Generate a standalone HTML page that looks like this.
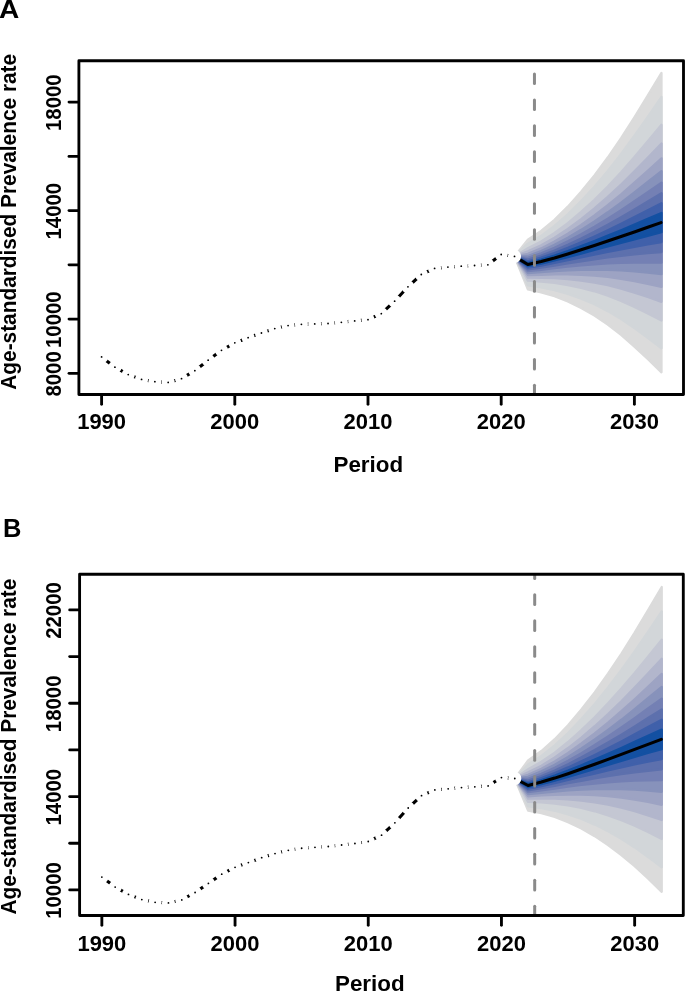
<!DOCTYPE html>
<html><head><meta charset="utf-8"><title>Figure</title>
<style>html,body{margin:0;padding:0;background:#fff;}body{width:685px;height:992px;overflow:hidden;font-family:"Liberation Sans",sans-serif;}svg{display:block;will-change:transform;}</style></head>
<body>
<svg width="685" height="992" viewBox="0 0 685 992" font-family="Liberation Sans, sans-serif" font-weight="bold">
<rect width="685" height="992" fill="#fff"/>
<g id="chartA">
<clipPath id="clipA"><rect x="78.9" y="60.75" width="604.6" height="333.75"/></clipPath>
<g clip-path="url(#clipA)">
<polygon points="514.52,256.40 527.84,239.70 541.16,230.90 554.48,219.80 567.80,206.65 581.12,191.75 594.44,175.50 607.76,157.55 621.08,138.13 634.40,117.35 647.72,95.62 661.49,72.95 661.49,372.35 647.72,359.02 634.40,346.55 621.08,334.93 607.76,324.55 594.44,315.50 581.12,307.95 567.80,301.45 554.48,296.20 541.16,292.30 527.84,289.30" fill="#DBDBDB" stroke="#DBDBDB" stroke-width="2.3" stroke-linejoin="round"/>
<polygon points="514.52,256.40 527.84,243.69 541.16,235.83 554.48,225.94 567.80,214.27 581.12,201.09 594.44,186.75 607.76,170.97 621.08,153.94 634.40,135.77 647.72,116.79 661.49,97.01 661.49,348.29 647.72,337.85 634.40,328.13 621.08,319.12 607.76,311.13 594.44,304.25 581.12,298.61 567.80,293.83 554.48,290.06 541.16,287.37 527.84,285.31" fill="#D2D6D9" stroke="#D2D6D9" stroke-width="2.3" stroke-linejoin="round"/>
<polygon points="514.52,256.40 527.84,248.28 541.16,241.53 554.48,233.02 567.80,223.06 581.12,211.86 594.44,199.73 607.76,186.45 621.08,172.19 634.40,157.02 647.72,141.20 661.49,124.76 661.49,320.54 647.72,313.44 634.40,306.88 621.08,300.87 607.76,295.65 594.44,291.27 581.12,287.84 567.80,285.04 554.48,282.98 541.16,281.67 527.84,280.72" fill="#C4C7D3" stroke="#C4C7D3" stroke-width="2.3" stroke-linejoin="round"/>
<polygon points="514.52,256.40 527.84,251.39 541.16,245.37 554.48,237.80 567.80,228.99 581.12,219.13 594.44,208.49 607.76,196.90 621.08,184.50 634.40,171.35 647.72,157.68 661.49,143.49 661.49,301.81 647.72,296.96 634.40,292.55 621.08,288.56 607.76,285.20 594.44,282.51 581.12,280.57 567.80,279.11 554.48,278.20 541.16,277.83 527.84,277.61" fill="#B2B6CC" stroke="#B2B6CC" stroke-width="2.3" stroke-linejoin="round"/>
<polygon points="514.52,256.40 527.84,253.85 541.16,248.42 554.48,241.60 567.80,233.70 581.12,224.90 594.44,215.44 607.76,205.20 621.08,194.28 634.40,182.74 647.72,170.77 661.49,158.37 661.49,286.93 647.72,283.87 634.40,281.16 621.08,278.78 607.76,276.90 594.44,275.56 581.12,274.80 567.80,274.40 554.48,274.40 541.16,274.78 527.84,275.15" fill="#9DA3C3" stroke="#9DA3C3" stroke-width="2.3" stroke-linejoin="round"/>
<polygon points="514.52,256.40 527.84,255.97 541.16,251.04 554.48,244.85 567.80,237.74 581.12,229.86 594.44,221.41 607.76,212.31 621.08,202.67 634.40,192.51 647.72,182.00 661.49,171.13 661.49,274.17 647.72,272.64 634.40,271.39 621.08,270.39 607.76,269.79 594.44,269.59 581.12,269.84 567.80,270.36 554.48,271.15 541.16,272.16 527.84,273.03" fill="#8792BB" stroke="#8792BB" stroke-width="2.3" stroke-linejoin="round"/>
<polygon points="514.52,256.40 527.84,257.86 541.16,253.39 554.48,247.78 567.80,241.37 581.12,234.31 594.44,226.77 607.76,218.71 621.08,210.20 634.40,201.29 647.72,192.08 661.49,182.60 661.49,262.70 647.72,262.56 634.40,262.61 621.08,262.86 607.76,263.39 594.44,264.23 581.12,265.39 567.80,266.73 554.48,268.22 541.16,269.81 527.84,271.14" fill="#7480B4" stroke="#7480B4" stroke-width="2.3" stroke-linejoin="round"/>
<polygon points="514.52,256.40 527.84,259.62 541.16,255.56 554.48,250.49 567.80,244.73 581.12,238.43 594.44,231.74 607.76,224.64 621.08,217.19 634.40,209.42 647.72,201.43 661.49,193.22 661.49,252.08 647.72,253.21 634.40,254.48 621.08,255.87 607.76,257.46 594.44,259.26 581.12,261.27 567.80,263.37 554.48,265.51 541.16,267.64 527.84,269.38" fill="#5D70AD" stroke="#5D70AD" stroke-width="2.3" stroke-linejoin="round"/>
<polygon points="514.52,256.40 527.84,261.29 541.16,257.63 554.48,253.06 567.80,247.92 581.12,242.34 594.44,236.45 607.76,230.26 621.08,223.81 634.40,217.14 647.72,210.30 661.49,203.30 661.49,242.00 647.72,244.34 634.40,246.76 621.08,249.25 607.76,251.84 594.44,254.55 581.12,257.36 567.80,260.18 554.48,262.94 541.16,265.57 527.84,267.71" fill="#4060AA" stroke="#4060AA" stroke-width="2.3" stroke-linejoin="round"/>
<polygon points="514.52,256.40 527.84,262.91 541.16,259.63 554.48,255.55 567.80,251.01 581.12,246.12 594.44,241.01 607.76,235.69 621.08,230.22 634.40,224.60 647.72,218.87 661.49,213.05 661.49,232.25 647.72,235.77 634.40,239.30 621.08,242.84 607.76,246.41 594.44,249.99 581.12,253.58 567.80,257.09 554.48,260.45 541.16,263.57 527.84,266.09" fill="#1350A2" stroke="#1350A2" stroke-width="2.3" stroke-linejoin="round"/>
<polyline points="101.60,356.90 114.92,367.20 128.24,374.60 141.56,379.40 154.88,381.70 168.20,382.40 181.52,378.70 194.84,370.70 208.16,360.20 221.48,350.30 234.80,342.85 248.12,337.70 261.44,333.00 274.76,328.60 288.08,325.60 301.40,324.30 314.72,323.90 328.04,323.50 341.36,322.30 354.68,320.90 368.00,319.70 381.32,313.70 394.64,301.20 407.96,286.80 421.28,274.50 434.60,268.45 447.92,267.10 461.24,266.20 474.56,265.50 487.88,264.80 501.20,254.50 514.52,256.40 527.84,264.50 541.16,261.60 554.48,258.00 567.80,254.05 581.12,249.85 594.44,245.50 607.76,241.05 621.08,236.53 634.40,231.95 647.72,227.32 661.04,222.65" fill="none" stroke="#000" stroke-width="3.1" stroke-linejoin="round" stroke-linecap="round"/>
<circle cx="101.60" cy="356.90" r="3.73" fill="#000" stroke="#fff" stroke-width="5.65"/>
<circle cx="114.92" cy="367.20" r="3.73" fill="#000" stroke="#fff" stroke-width="5.65"/>
<circle cx="128.24" cy="374.60" r="3.73" fill="#000" stroke="#fff" stroke-width="5.65"/>
<circle cx="141.56" cy="379.40" r="3.73" fill="#000" stroke="#fff" stroke-width="5.65"/>
<circle cx="154.88" cy="381.70" r="3.73" fill="#000" stroke="#fff" stroke-width="5.65"/>
<circle cx="168.20" cy="382.40" r="3.73" fill="#000" stroke="#fff" stroke-width="5.65"/>
<circle cx="181.52" cy="378.70" r="3.73" fill="#000" stroke="#fff" stroke-width="5.65"/>
<circle cx="194.84" cy="370.70" r="3.73" fill="#000" stroke="#fff" stroke-width="5.65"/>
<circle cx="208.16" cy="360.20" r="3.73" fill="#000" stroke="#fff" stroke-width="5.65"/>
<circle cx="221.48" cy="350.30" r="3.73" fill="#000" stroke="#fff" stroke-width="5.65"/>
<circle cx="234.80" cy="342.85" r="3.73" fill="#000" stroke="#fff" stroke-width="5.65"/>
<circle cx="248.12" cy="337.70" r="3.73" fill="#000" stroke="#fff" stroke-width="5.65"/>
<circle cx="261.44" cy="333.00" r="3.73" fill="#000" stroke="#fff" stroke-width="5.65"/>
<circle cx="274.76" cy="328.60" r="3.73" fill="#000" stroke="#fff" stroke-width="5.65"/>
<circle cx="288.08" cy="325.60" r="3.73" fill="#000" stroke="#fff" stroke-width="5.65"/>
<circle cx="301.40" cy="324.30" r="3.73" fill="#000" stroke="#fff" stroke-width="5.65"/>
<circle cx="314.72" cy="323.90" r="3.73" fill="#000" stroke="#fff" stroke-width="5.65"/>
<circle cx="328.04" cy="323.50" r="3.73" fill="#000" stroke="#fff" stroke-width="5.65"/>
<circle cx="341.36" cy="322.30" r="3.73" fill="#000" stroke="#fff" stroke-width="5.65"/>
<circle cx="354.68" cy="320.90" r="3.73" fill="#000" stroke="#fff" stroke-width="5.65"/>
<circle cx="368.00" cy="319.70" r="3.73" fill="#000" stroke="#fff" stroke-width="5.65"/>
<circle cx="381.32" cy="313.70" r="3.73" fill="#000" stroke="#fff" stroke-width="5.65"/>
<circle cx="394.64" cy="301.20" r="3.73" fill="#000" stroke="#fff" stroke-width="5.65"/>
<circle cx="407.96" cy="286.80" r="3.73" fill="#000" stroke="#fff" stroke-width="5.65"/>
<circle cx="421.28" cy="274.50" r="3.73" fill="#000" stroke="#fff" stroke-width="5.65"/>
<circle cx="434.60" cy="268.45" r="3.73" fill="#000" stroke="#fff" stroke-width="5.65"/>
<circle cx="447.92" cy="267.10" r="3.73" fill="#000" stroke="#fff" stroke-width="5.65"/>
<circle cx="461.24" cy="266.20" r="3.73" fill="#000" stroke="#fff" stroke-width="5.65"/>
<circle cx="474.56" cy="265.50" r="3.73" fill="#000" stroke="#fff" stroke-width="5.65"/>
<circle cx="487.88" cy="264.80" r="3.73" fill="#000" stroke="#fff" stroke-width="5.65"/>
<circle cx="501.20" cy="254.50" r="3.73" fill="#000" stroke="#fff" stroke-width="5.65"/>
<circle cx="514.52" cy="256.40" r="3.73" fill="#000" stroke="#fff" stroke-width="5.65"/>
<rect x="532.95" y="72.45" width="3.0" height="12.6" rx="1.5" fill="#8a8a8a"/>
<rect x="532.95" y="98.40" width="3.0" height="12.6" rx="1.5" fill="#8a8a8a"/>
<rect x="532.95" y="124.35" width="3.0" height="12.6" rx="1.5" fill="#8a8a8a"/>
<rect x="532.95" y="150.30" width="3.0" height="12.6" rx="1.5" fill="#8a8a8a"/>
<rect x="532.95" y="176.25" width="3.0" height="12.6" rx="1.5" fill="#8a8a8a"/>
<rect x="532.95" y="202.20" width="3.0" height="12.6" rx="1.5" fill="#8a8a8a"/>
<rect x="532.95" y="228.15" width="3.0" height="12.6" rx="1.5" fill="#8a8a8a"/>
<rect x="532.95" y="254.10" width="3.0" height="12.6" rx="1.5" fill="#8a8a8a"/>
<rect x="532.95" y="280.05" width="3.0" height="12.6" rx="1.5" fill="#8a8a8a"/>
<rect x="532.95" y="306.00" width="3.0" height="12.6" rx="1.5" fill="#8a8a8a"/>
<rect x="532.95" y="331.95" width="3.0" height="12.6" rx="1.5" fill="#8a8a8a"/>
<rect x="532.95" y="357.90" width="3.0" height="12.6" rx="1.5" fill="#8a8a8a"/>
<rect x="532.95" y="383.85" width="3.0" height="12.6" rx="1.5" fill="#8a8a8a"/>
</g>
<rect x="78.9" y="60.75" width="604.6" height="333.75" fill="none" stroke="#000" stroke-width="2.85" stroke-linejoin="round"/>
<line x1="101.60" y1="395.5" x2="101.60" y2="404.30" stroke="#000" stroke-width="2.85" stroke-linecap="round"/>
<text transform="translate(101.60,428.9) scale(1,1.005)" font-size="22.0" text-anchor="middle">1990</text>
<line x1="234.80" y1="395.5" x2="234.80" y2="404.30" stroke="#000" stroke-width="2.85" stroke-linecap="round"/>
<text transform="translate(234.80,428.9) scale(1,1.005)" font-size="22.0" text-anchor="middle">2000</text>
<line x1="368.00" y1="395.5" x2="368.00" y2="404.30" stroke="#000" stroke-width="2.85" stroke-linecap="round"/>
<text transform="translate(368.00,428.9) scale(1,1.005)" font-size="22.0" text-anchor="middle">2010</text>
<line x1="501.20" y1="395.5" x2="501.20" y2="404.30" stroke="#000" stroke-width="2.85" stroke-linecap="round"/>
<text transform="translate(501.20,428.9) scale(1,1.005)" font-size="22.0" text-anchor="middle">2020</text>
<line x1="634.40" y1="395.5" x2="634.40" y2="404.30" stroke="#000" stroke-width="2.85" stroke-linecap="round"/>
<text transform="translate(634.40,428.9) scale(1,1.005)" font-size="22.0" text-anchor="middle">2030</text>
<line x1="77.9" y1="373.3" x2="69.00" y2="373.3" stroke="#000" stroke-width="2.85" stroke-linecap="round"/>
<text transform="translate(60.9,373.90000000000003) rotate(-90) scale(1,1.06)" font-size="20.4" text-anchor="middle">8000</text>
<line x1="77.9" y1="319.1" x2="69.00" y2="319.1" stroke="#000" stroke-width="2.85" stroke-linecap="round"/>
<text transform="translate(60.9,319.70000000000005) rotate(-90) scale(1,1.06)" font-size="20.4" text-anchor="middle">10000</text>
<line x1="77.9" y1="264.8" x2="69.00" y2="264.8" stroke="#000" stroke-width="2.85" stroke-linecap="round"/>
<line x1="77.9" y1="210.6" x2="69.00" y2="210.6" stroke="#000" stroke-width="2.85" stroke-linecap="round"/>
<text transform="translate(60.9,211.2) rotate(-90) scale(1,1.06)" font-size="20.4" text-anchor="middle">14000</text>
<line x1="77.9" y1="156.4" x2="69.00" y2="156.4" stroke="#000" stroke-width="2.85" stroke-linecap="round"/>
<line x1="77.9" y1="102.1" x2="69.00" y2="102.1" stroke="#000" stroke-width="2.85" stroke-linecap="round"/>
<text transform="translate(60.9,102.69999999999999) rotate(-90) scale(1,1.06)" font-size="20.4" text-anchor="middle">18000</text>
<text transform="translate(16.2,221.8) rotate(-90) scale(1,1.02)" font-size="20.85" text-anchor="middle">Age-standardised Prevalence rate</text>
<text x="368.3" y="472.1" font-size="22.4" text-anchor="middle">Period</text>
<text transform="translate(-1.0,18.0) scale(1.1,1)" font-size="25.5">A</text>
</g>
<g id="chartB">
<clipPath id="clipB"><rect x="79.6" y="574.2" width="603.6999999999999" height="341.29999999999995"/></clipPath>
<g clip-path="url(#clipB)">
<polygon points="514.77,778.50 528.09,760.50 541.41,751.00 554.73,739.20 568.05,725.20 581.37,709.55 594.69,692.35 608.01,673.65 621.33,653.80 634.65,632.60 647.97,610.30 661.74,587.00 661.74,891.80 647.97,878.50 634.65,866.20 621.33,855.00 608.01,845.05 594.69,836.15 581.37,828.55 568.05,822.20 554.73,817.00 541.41,813.20 528.09,810.50" fill="#DBDBDB" stroke="#DBDBDB" stroke-width="2.3" stroke-linejoin="round"/>
<polygon points="514.77,778.50 528.09,764.52 541.41,756.00 554.73,745.45 568.05,732.99 581.37,719.11 594.69,703.91 608.01,687.42 621.33,669.97 634.65,651.37 647.97,631.85 661.74,611.49 661.74,867.31 647.97,856.95 634.65,847.43 621.33,838.83 608.01,831.28 594.69,824.59 581.37,818.99 568.05,814.41 554.73,810.75 541.41,808.20 528.09,806.48" fill="#D2D6D9" stroke="#D2D6D9" stroke-width="2.3" stroke-linejoin="round"/>
<polygon points="514.77,778.50 528.09,769.15 541.41,761.76 554.73,752.66 568.05,741.99 581.37,730.14 594.69,717.24 608.01,703.31 621.33,688.62 634.65,673.03 647.97,656.72 661.74,639.75 661.74,839.05 647.97,832.08 634.65,825.77 621.33,820.18 608.01,815.39 594.69,811.26 581.37,807.96 568.05,805.41 554.73,803.54 541.41,802.44 528.09,801.85" fill="#C4C7D3" stroke="#C4C7D3" stroke-width="2.3" stroke-linejoin="round"/>
<polygon points="514.77,778.50 528.09,772.28 541.41,765.66 554.73,757.53 568.05,748.05 581.37,737.59 594.69,726.23 608.01,714.03 621.33,701.21 634.65,687.64 647.97,673.49 661.74,658.81 661.74,819.99 647.97,815.31 634.65,811.16 621.33,807.59 608.01,804.67 594.69,802.27 581.37,800.51 568.05,799.35 554.73,798.67 541.41,798.54 528.09,798.72" fill="#B2B6CC" stroke="#B2B6CC" stroke-width="2.3" stroke-linejoin="round"/>
<polygon points="514.77,778.50 528.09,774.77 541.41,768.75 554.73,761.40 568.05,752.87 581.37,743.50 594.69,733.38 608.01,722.55 621.33,711.20 634.65,699.25 647.97,686.82 661.74,673.96 661.74,804.84 647.97,801.98 634.65,799.55 621.33,797.60 608.01,796.15 594.69,795.12 581.37,794.60 568.05,794.53 554.73,794.80 541.41,795.45 528.09,796.23" fill="#9DA3C3" stroke="#9DA3C3" stroke-width="2.3" stroke-linejoin="round"/>
<polygon points="514.77,778.50 528.09,776.90 541.41,771.40 554.73,764.71 568.05,757.01 581.37,748.57 594.69,739.51 608.01,729.86 621.33,719.78 634.65,709.21 647.97,698.25 661.74,686.95 661.74,791.85 647.97,790.55 634.65,789.59 621.33,789.02 608.01,788.84 594.69,788.99 581.37,789.53 568.05,790.39 554.73,791.49 541.41,792.80 528.09,794.10" fill="#8792BB" stroke="#8792BB" stroke-width="2.3" stroke-linejoin="round"/>
<polygon points="514.77,778.50 528.09,778.81 541.41,773.78 554.73,767.69 568.05,760.72 581.37,753.13 594.69,745.01 608.01,736.42 621.33,727.48 634.65,718.15 647.97,708.52 661.74,698.63 661.74,780.17 647.97,780.28 634.65,780.65 621.33,781.32 608.01,782.28 594.69,783.49 581.37,784.97 568.05,786.68 554.73,788.51 541.41,790.42 528.09,792.19" fill="#7480B4" stroke="#7480B4" stroke-width="2.3" stroke-linejoin="round"/>
<polygon points="514.77,778.50 528.09,780.59 541.41,775.99 554.73,770.45 568.05,764.17 581.37,757.35 594.69,750.12 608.01,742.50 621.33,734.62 634.65,726.44 647.97,718.04 661.74,709.44 661.74,769.36 647.97,770.76 634.65,772.36 621.33,774.18 608.01,776.20 594.69,778.38 581.37,780.75 568.05,783.23 554.73,785.75 541.41,788.21 528.09,790.41" fill="#5D70AD" stroke="#5D70AD" stroke-width="2.3" stroke-linejoin="round"/>
<polygon points="514.77,778.50 528.09,782.27 541.41,778.08 554.73,773.07 568.05,767.43 581.37,761.36 594.69,754.96 608.01,748.27 621.33,741.40 634.65,734.31 647.97,727.07 661.74,719.70 661.74,759.10 647.97,761.73 634.65,764.49 621.33,767.40 608.01,770.43 594.69,773.54 581.37,776.74 568.05,779.97 554.73,783.13 541.41,786.12 528.09,788.73" fill="#4060AA" stroke="#4060AA" stroke-width="2.3" stroke-linejoin="round"/>
<polygon points="514.77,778.50 528.09,783.90 541.41,780.11 554.73,775.61 568.05,770.59 581.37,765.23 594.69,759.64 608.01,753.85 621.33,747.95 634.65,741.91 647.97,735.80 661.74,729.63 661.74,749.17 647.97,753.00 634.65,756.89 621.33,760.85 608.01,764.85 594.69,768.86 581.37,772.87 568.05,776.81 554.73,780.59 541.41,784.09 528.09,787.10" fill="#1350A2" stroke="#1350A2" stroke-width="2.3" stroke-linejoin="round"/>
<polyline points="101.85,877.10 115.17,887.10 128.49,894.40 141.81,899.60 155.13,902.30 168.45,902.95 181.77,899.90 195.09,892.50 208.41,883.40 221.73,874.20 235.05,867.30 248.37,862.60 261.69,857.70 275.01,853.60 288.33,850.30 301.65,848.25 314.97,847.30 328.29,846.50 341.61,845.00 354.93,843.50 368.25,841.50 381.57,835.20 394.89,822.80 408.21,808.00 421.53,795.70 434.85,789.95 448.17,788.80 461.49,787.60 474.81,786.80 488.13,785.90 501.45,777.55 514.77,778.50 528.09,785.50 541.41,782.10 554.73,778.10 568.05,773.70 581.37,769.05 594.69,764.25 608.01,759.35 621.33,754.40 634.65,749.40 647.97,744.40 661.29,739.40" fill="none" stroke="#000" stroke-width="3.1" stroke-linejoin="round" stroke-linecap="round"/>
<circle cx="101.85" cy="877.10" r="3.73" fill="#000" stroke="#fff" stroke-width="5.65"/>
<circle cx="115.17" cy="887.10" r="3.73" fill="#000" stroke="#fff" stroke-width="5.65"/>
<circle cx="128.49" cy="894.40" r="3.73" fill="#000" stroke="#fff" stroke-width="5.65"/>
<circle cx="141.81" cy="899.60" r="3.73" fill="#000" stroke="#fff" stroke-width="5.65"/>
<circle cx="155.13" cy="902.30" r="3.73" fill="#000" stroke="#fff" stroke-width="5.65"/>
<circle cx="168.45" cy="902.95" r="3.73" fill="#000" stroke="#fff" stroke-width="5.65"/>
<circle cx="181.77" cy="899.90" r="3.73" fill="#000" stroke="#fff" stroke-width="5.65"/>
<circle cx="195.09" cy="892.50" r="3.73" fill="#000" stroke="#fff" stroke-width="5.65"/>
<circle cx="208.41" cy="883.40" r="3.73" fill="#000" stroke="#fff" stroke-width="5.65"/>
<circle cx="221.73" cy="874.20" r="3.73" fill="#000" stroke="#fff" stroke-width="5.65"/>
<circle cx="235.05" cy="867.30" r="3.73" fill="#000" stroke="#fff" stroke-width="5.65"/>
<circle cx="248.37" cy="862.60" r="3.73" fill="#000" stroke="#fff" stroke-width="5.65"/>
<circle cx="261.69" cy="857.70" r="3.73" fill="#000" stroke="#fff" stroke-width="5.65"/>
<circle cx="275.01" cy="853.60" r="3.73" fill="#000" stroke="#fff" stroke-width="5.65"/>
<circle cx="288.33" cy="850.30" r="3.73" fill="#000" stroke="#fff" stroke-width="5.65"/>
<circle cx="301.65" cy="848.25" r="3.73" fill="#000" stroke="#fff" stroke-width="5.65"/>
<circle cx="314.97" cy="847.30" r="3.73" fill="#000" stroke="#fff" stroke-width="5.65"/>
<circle cx="328.29" cy="846.50" r="3.73" fill="#000" stroke="#fff" stroke-width="5.65"/>
<circle cx="341.61" cy="845.00" r="3.73" fill="#000" stroke="#fff" stroke-width="5.65"/>
<circle cx="354.93" cy="843.50" r="3.73" fill="#000" stroke="#fff" stroke-width="5.65"/>
<circle cx="368.25" cy="841.50" r="3.73" fill="#000" stroke="#fff" stroke-width="5.65"/>
<circle cx="381.57" cy="835.20" r="3.73" fill="#000" stroke="#fff" stroke-width="5.65"/>
<circle cx="394.89" cy="822.80" r="3.73" fill="#000" stroke="#fff" stroke-width="5.65"/>
<circle cx="408.21" cy="808.00" r="3.73" fill="#000" stroke="#fff" stroke-width="5.65"/>
<circle cx="421.53" cy="795.70" r="3.73" fill="#000" stroke="#fff" stroke-width="5.65"/>
<circle cx="434.85" cy="789.95" r="3.73" fill="#000" stroke="#fff" stroke-width="5.65"/>
<circle cx="448.17" cy="788.80" r="3.73" fill="#000" stroke="#fff" stroke-width="5.65"/>
<circle cx="461.49" cy="787.60" r="3.73" fill="#000" stroke="#fff" stroke-width="5.65"/>
<circle cx="474.81" cy="786.80" r="3.73" fill="#000" stroke="#fff" stroke-width="5.65"/>
<circle cx="488.13" cy="785.90" r="3.73" fill="#000" stroke="#fff" stroke-width="5.65"/>
<circle cx="501.45" cy="777.55" r="3.73" fill="#000" stroke="#fff" stroke-width="5.65"/>
<circle cx="514.77" cy="778.50" r="3.73" fill="#000" stroke="#fff" stroke-width="5.65"/>
<rect x="533.20" y="567.40" width="3.0" height="12.6" rx="1.5" fill="#8a8a8a"/>
<rect x="533.20" y="593.35" width="3.0" height="12.6" rx="1.5" fill="#8a8a8a"/>
<rect x="533.20" y="619.30" width="3.0" height="12.6" rx="1.5" fill="#8a8a8a"/>
<rect x="533.20" y="645.25" width="3.0" height="12.6" rx="1.5" fill="#8a8a8a"/>
<rect x="533.20" y="671.20" width="3.0" height="12.6" rx="1.5" fill="#8a8a8a"/>
<rect x="533.20" y="697.15" width="3.0" height="12.6" rx="1.5" fill="#8a8a8a"/>
<rect x="533.20" y="723.10" width="3.0" height="12.6" rx="1.5" fill="#8a8a8a"/>
<rect x="533.20" y="749.05" width="3.0" height="12.6" rx="1.5" fill="#8a8a8a"/>
<rect x="533.20" y="775.00" width="3.0" height="12.6" rx="1.5" fill="#8a8a8a"/>
<rect x="533.20" y="800.95" width="3.0" height="12.6" rx="1.5" fill="#8a8a8a"/>
<rect x="533.20" y="826.90" width="3.0" height="12.6" rx="1.5" fill="#8a8a8a"/>
<rect x="533.20" y="852.85" width="3.0" height="12.6" rx="1.5" fill="#8a8a8a"/>
<rect x="533.20" y="878.80" width="3.0" height="12.6" rx="1.5" fill="#8a8a8a"/>
<rect x="533.20" y="904.75" width="3.0" height="12.6" rx="1.5" fill="#8a8a8a"/>
</g>
<rect x="79.6" y="574.2" width="603.6999999999999" height="341.29999999999995" fill="none" stroke="#000" stroke-width="2.85" stroke-linejoin="round"/>
<line x1="101.85" y1="916.5" x2="101.85" y2="925.30" stroke="#000" stroke-width="2.85" stroke-linecap="round"/>
<text transform="translate(101.85,951.0) scale(1,1.005)" font-size="22.0" text-anchor="middle">1990</text>
<line x1="235.05" y1="916.5" x2="235.05" y2="925.30" stroke="#000" stroke-width="2.85" stroke-linecap="round"/>
<text transform="translate(235.05,951.0) scale(1,1.005)" font-size="22.0" text-anchor="middle">2000</text>
<line x1="368.25" y1="916.5" x2="368.25" y2="925.30" stroke="#000" stroke-width="2.85" stroke-linecap="round"/>
<text transform="translate(368.25,951.0) scale(1,1.005)" font-size="22.0" text-anchor="middle">2010</text>
<line x1="501.45" y1="916.5" x2="501.45" y2="925.30" stroke="#000" stroke-width="2.85" stroke-linecap="round"/>
<text transform="translate(501.45,951.0) scale(1,1.005)" font-size="22.0" text-anchor="middle">2020</text>
<line x1="634.65" y1="916.5" x2="634.65" y2="925.30" stroke="#000" stroke-width="2.85" stroke-linecap="round"/>
<text transform="translate(634.65,951.0) scale(1,1.005)" font-size="22.0" text-anchor="middle">2030</text>
<line x1="78.6" y1="889.9" x2="69.70" y2="889.9" stroke="#000" stroke-width="2.85" stroke-linecap="round"/>
<text transform="translate(60.9,890.5) rotate(-90) scale(1,1.06)" font-size="20.4" text-anchor="middle">10000</text>
<line x1="78.6" y1="843.2" x2="69.70" y2="843.2" stroke="#000" stroke-width="2.85" stroke-linecap="round"/>
<line x1="78.6" y1="796.6" x2="69.70" y2="796.6" stroke="#000" stroke-width="2.85" stroke-linecap="round"/>
<text transform="translate(60.9,797.2) rotate(-90) scale(1,1.06)" font-size="20.4" text-anchor="middle">14000</text>
<line x1="78.6" y1="749.9" x2="69.70" y2="749.9" stroke="#000" stroke-width="2.85" stroke-linecap="round"/>
<line x1="78.6" y1="703.2" x2="69.70" y2="703.2" stroke="#000" stroke-width="2.85" stroke-linecap="round"/>
<text transform="translate(60.9,703.8000000000001) rotate(-90) scale(1,1.06)" font-size="20.4" text-anchor="middle">18000</text>
<line x1="78.6" y1="656.6" x2="69.70" y2="656.6" stroke="#000" stroke-width="2.85" stroke-linecap="round"/>
<line x1="78.6" y1="609.9" x2="69.70" y2="609.9" stroke="#000" stroke-width="2.85" stroke-linecap="round"/>
<text transform="translate(60.9,610.5) rotate(-90) scale(1,1.06)" font-size="20.4" text-anchor="middle">22000</text>
<text transform="translate(16.2,746.6) rotate(-90) scale(1,1.02)" font-size="20.85" text-anchor="middle">Age-standardised Prevalence rate</text>
<text x="369.8" y="991.4" font-size="22.4" text-anchor="middle">Period</text>
<text transform="translate(3.05,537.0) scale(1.0,1)" font-size="25.5">B</text>
</g>
</svg>
</body></html>
